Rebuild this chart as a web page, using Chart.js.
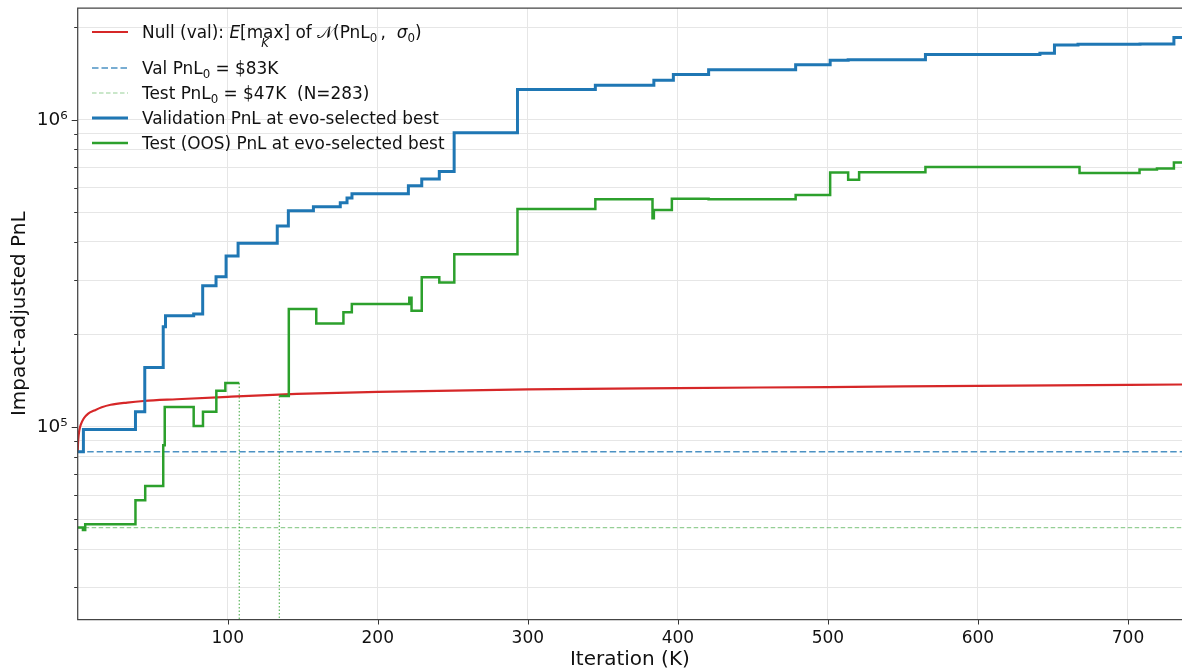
<!DOCTYPE html>
<html><head><meta charset="utf-8">
<script src="https://cdn.jsdelivr.net/npm/chart.js@4.4.1/dist/chart.umd.min.js"></script>
<style>
html,body{margin:0;padding:0;background:#fff;}
#wrap{position:relative;width:1182px;height:670px;font-family:"DejaVu Sans",sans-serif;overflow:hidden;}
canvas{position:absolute;left:0;top:0;}
.row{position:absolute;left:92px;display:flex;align-items:center;height:22px;white-space:nowrap;font-size:16.9px;color:#111;}
.row svg{width:36px;height:10px;margin-right:14px;flex:none;}
sub{font-size:0.7em;vertical-align:-0.3em;line-height:0;}
.mx{position:relative;display:inline-block;}
.mx .k{position:absolute;left:50%;transform:translateX(-50%);top:1.2em;font-size:0.68em;font-style:italic;}
</style></head>
<body><div id="wrap"><canvas id="c" width="1182" height="670"></canvas>
<div class="row" style="top:21px"><svg><line x1="0" y1="5" x2="36" y2="5" stroke="#d62728" stroke-width="2.2"/></svg><span>Null (val): <i>E</i>[<span class="mx">max<span class="k">K</span></span>] of 𝒩(PnL<sub>0</sub>&thinsp;,&nbsp; <i>σ</i><sub>0</sub>)</span></div>
<div class="row" style="top:57px"><svg><line x1="0" y1="5" x2="36" y2="5" stroke="rgba(31,119,180,0.8)" stroke-width="1.5" stroke-dasharray="6.5,3"/></svg><span>Val PnL<sub>0</sub> = $83K</span></div>
<div class="row" style="top:82px"><svg><line x1="0" y1="5" x2="36" y2="5" stroke="rgba(44,160,44,0.5)" stroke-width="1.2" stroke-dasharray="4.5,2.5"/></svg><span>Test PnL<sub>0</sub> = $47K&nbsp; (N=283)</span></div>
<div class="row" style="top:107px"><svg><line x1="0" y1="5" x2="36" y2="5" stroke="#1f77b4" stroke-width="3"/></svg><span>Validation PnL at evo-selected best</span></div>
<div class="row" style="top:132px"><svg><line x1="0" y1="5" x2="36" y2="5" stroke="#2ca02c" stroke-width="2.5"/></svg><span>Test (OOS) PnL at evo-selected best</span></div>
</div>
<script>
// ---- data ----
const valX = [0, 3.8, 38.5, 44.7, 57, 58.5, 77.3, 83.3, 92.2, 98.9, 106.9, 133, 140.4, 157.1, 175, 179.5, 182.8, 220.4, 229.3, 241, 250.9, 293.1, 345, 384, 397, 420.5, 478.5, 501.5, 513.5, 565, 641.3, 651, 666.7, 708, 730.6, 736];
const valY = [83000, 98000, 112000, 156000, 212000, 230000, 233000, 288000, 308000, 360000, 396000, 451000, 505000, 521000, 537000, 556000, 574000, 610000, 641000, 678000, 906000, 1253000, 1294000, 1343000, 1402000, 1455000, 1510000, 1560000, 1568000, 1630000, 1645000, 1750000, 1760000, 1765000, 1850000, 1850000];

const testX = [0, 3.5, 5, 38.5, 45, 57, 58, 77.3, 83.5, 92.4, 98.4, 107.7, 108, 134.4, 140.7, 159, 177.1, 182.7, 221, 222.5, 229.3, 241, 251, 293.1, 345, 383.1, 384, 396, 420.5, 478.5, 501.5, 513.5, 520.8, 565, 667.7, 707.7, 719.3, 730.6, 736];
const testY = [47000, 46200, 48200, 57700, 64200, 87200, 116000, 100700, 112000, 131000, 139000, 139000, null, 126000, 242000, 217000, 236000, 251000, 263000, 239000, 307000, 295000, 365000, 512000, 551000, 478000, 508000, 553000, 551000, 569000, 673000, 637000, 674000, 702000, 671000, 688000, 693000, 726000, 726000];

const nullX = [0, 0.3, 1, 2, 4, 7, 11, 16, 22, 33, 44, 66, 100, 146, 200, 300, 400, 500, 600, 736];
const nullY = [83000, 90000, 97000, 101500, 106500, 110500, 113000, 115800, 118000, 120000, 121400, 123000, 125300, 128000, 130000, 132500, 133800, 134800, 136000, 137400];

const valBase = 83000;
const testBase = 47000;
const markerX = [107.7, 134.4];
const markerY = [139000, 126000];

const xMin = 0, xMax = 736;
const yMin = 23600, yMax = 2310000;
const xTicks = [100, 200, 300, 400, 500, 600, 700];
const yTicks = [30000, 40000, 50000, 60000, 70000, 80000, 90000, 100000, 200000, 300000, 400000, 500000, 600000, 700000, 800000, 900000, 1000000, 2000000];
const yMajor = [100000, 1000000];
const yMajorLabels = ['10⁵', '10⁶'];

// ---- build ----
const pts = (xs, ys) => xs.map((x, i) => ({x: x, y: ys[i]}));
const datasets = [
  {data: pts(testX, testY), borderColor: '#2ca02c', borderWidth: 2.5, stepped: true, spanGaps: false, order: 0},
  {data: pts(valX, valY), borderColor: '#1f77b4', borderWidth: 3, stepped: true, order: 1},
  {data: [{x: xMin, y: testBase}, {x: xMax, y: testBase}], borderColor: 'rgba(44,160,44,0.5)', borderWidth: 1.2, borderDash: [4.5, 2.5], order: 2},
  {data: [{x: xMin, y: valBase}, {x: xMax, y: valBase}], borderColor: 'rgba(31,119,180,0.8)', borderWidth: 1.5, borderDash: [6.5, 3], order: 3},
  {data: pts(nullX, nullY), borderColor: '#d62728', borderWidth: 2.2, cubicInterpolationMode: 'monotone', order: 4},
];
markerX.forEach((mx, i) => datasets.push({data: [{x: mx, y: markerY[i]}, {x: mx, y: yMin}], borderColor: 'rgba(44,160,44,0.7)', borderWidth: 1.3, borderDash: [1.5, 2], order: 5}));
datasets.forEach(d => { d.pointRadius = 0; d.fill = false; });

const deco = {
  id: 'deco',
  afterDraw(chart) {
    const {ctx, chartArea: a, scales: {x, y}} = chart;
    ctx.save();
    ctx.strokeStyle = '#333'; ctx.lineWidth = 1;
    const ln = (x1, y1, x2, y2) => { ctx.beginPath(); ctx.moveTo(x1, y1); ctx.lineTo(x2, y2); ctx.stroke(); };
    xTicks.forEach(v => { const p = Math.round(x.getPixelForValue(v)) + 0.5; ln(p, a.bottom, p, a.bottom + 5); });
    yTicks.forEach(v => { const p = Math.round(y.getPixelForValue(v)) + 0.5; const len = yMajor.includes(v) ? 6 : 3.5; ln(a.left - len, p, a.left, p); });
    ctx.strokeStyle = '#444'; ctx.lineWidth = 1.25;
    ctx.beginPath(); ctx.moveTo(a.right + 2, a.top); ctx.lineTo(a.left, a.top); ctx.lineTo(a.left, a.bottom); ctx.lineTo(a.right + 2, a.bottom); ctx.stroke();
    ctx.restore();
  }
};

new Chart(document.getElementById('c'), {
  type: 'line',
  data: {datasets: datasets},
  options: {
    responsive: false, animation: false, parsing: true, normalized: true,
    layout: {padding: {left: 0, right: 0, top: 8, bottom: 0}},
    plugins: {legend: {display: false}, tooltip: {enabled: false}},
    elements: {line: {tension: 0}},
    scales: {
      x: {
        type: 'linear', min: xMin, max: xMax,
        afterBuildTicks: s => { s.ticks = xTicks.map(v => ({value: v})); },
        afterFit: s => { s.height = 50.5; s.paddingLeft = 0; s.paddingRight = 0; },
        grid: {color: '#e6e6e6', lineWidth: 1, drawTicks: false},
        border: {display: false},
        ticks: {autoSkip: false, maxRotation: 0, padding: 9, color: '#111', font: {family: 'DejaVu Sans', size: 17}},
        title: {display: true, text: 'Iteration (K)', color: '#111', font: {family: 'DejaVu Sans', size: 20, lineHeight: 1}, padding: {top: 0, bottom: 0}}
      },
      y: {
        type: 'logarithmic', min: yMin, max: yMax,
        afterBuildTicks: s => { s.ticks = yTicks.map(v => ({value: v, major: yMajor.includes(v)})); },
        afterFit: s => { s.width = 77.7; s.paddingTop = 0; s.paddingBottom = 0; },
        grid: {color: '#e6e6e6', lineWidth: 1, drawTicks: false},
        border: {display: false},
        ticks: {autoSkip: false, padding: 10, color: '#111', font: {family: 'DejaVu Sans', size: 18.5},
          callback: v => { const i = yMajor.indexOf(v); return i >= 0 ? yMajorLabels[i] : ''; }},
        title: {display: true, text: 'Impact-adjusted PnL', color: '#111', font: {family: 'DejaVu Sans', size: 20, lineHeight: 1}, padding: {top: 10, bottom: 0}}
      }
    }
  },
  plugins: [deco]
});
</script>
</body></html>
